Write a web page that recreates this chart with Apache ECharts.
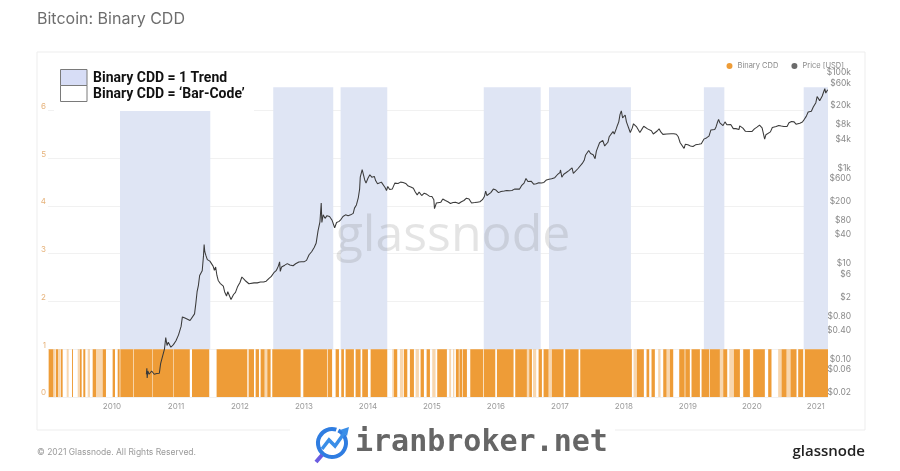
<!DOCTYPE html>
<html><head><meta charset="utf-8">
<script src="https://cdn.jsdelivr.net/npm/echarts@6/dist/echarts.min.js"></script>
<style>html,body{margin:0;padding:0;background:#fff}#c{width:900px;height:471px}</style>
</head><body><div id="c"></div>
<script>
// ---- data ----
const yearTicks = [2010,2011,2012,2013,2014,2015,2016,2017,2018,2019,2020,2021];
const cddTicks = [0,1,2,3,4,5,6];
const priceTickValues = [0.02,0.06,0.1,0.4,0.8,2,6,10,40,80,200,600,1000,4000,8000,20000,60000,100000];
const priceTickLabels = ['$0.02','$0.06','$0.10','$0.40','$0.80','$2','$6','$10','$40','$80','$200','$600','$1k','$4k','$8k','$20k','$60k','$100k'];
// annotated trend periods (decimal years)
const trendBands = [[2010.125,2011.536],[2012.52,2013.458],[2013.573,2014.302],[2015.81,2016.70],[2016.83,2018.11],[2019.25,2019.57],[2020.81,2021.19]];
// Binary CDD = 1 periods (decimal years)
const cddOn = [[2009.010,2009.083],[2009.125,2009.156],[2009.203,2009.229],[2009.375,2009.390],[2009.500,2009.526],[2009.552,2009.583],[2009.698,2009.750],[2009.854,2009.906],[2010.010,2010.047],[2010.089,2010.120],[2010.130,2010.330],[2010.338,2010.633],[2010.640,2010.955],[2010.962,2011.216],[2011.250,2011.520],[2011.635,2012.115],[2012.135,2012.219],[2012.245,2012.297],[2012.323,2012.385],[2012.427,2012.479],[2012.505,2012.948],[2012.990,2013.360],[2013.370,2013.440],[2013.495,2013.547],[2013.583,2013.625],[2013.651,2013.781],[2013.807,2013.885],[2013.911,2014.000],[2014.042,2014.302],[2014.406,2014.458],[2014.562,2014.615],[2014.656,2014.719],[2014.823,2014.875],[2014.917,2014.969],[2015.083,2015.234],[2015.375,2015.420],[2015.430,2015.470],[2015.480,2015.547],[2015.599,2015.800],[2015.810,2015.990],[2016.016,2016.276],[2016.302,2016.484],[2016.521,2016.563],[2016.667,2016.719],[2016.745,2016.823],[2016.875,2017.057],[2017.083,2017.292],[2017.318,2018.125],[2018.203,2018.3125],[2018.354,2018.396],[2018.432,2018.484],[2018.615,2018.667],[2018.719,2018.771],[2018.865,2018.950],[2018.960,2019.031],[2019.057,2019.188],[2019.214,2019.330],[2019.340,2019.500],[2019.552,2019.615],[2019.719,2019.813],[2019.865,2019.969],[2020.021,2020.203],[2020.255,2020.307],[2020.464,2020.542],[2020.604,2020.698],[2020.724,2020.802],[2020.828,2021.193]];
// short / partially visible CDD = 1 spells
const cddFaint = [[2009.083,2009.120],[2009.156,2009.200],[2009.292,2009.323],[2009.464,2009.500],[2009.620,2009.656],[2009.750,2009.854],[2012.385,2012.427],[2014.380,2014.406],[2014.500,2014.552],[2014.745,2014.797],[2015.005,2015.057],[2015.270,2015.300],[2015.330,2015.350],[2016.484,2016.521],[2016.580,2016.630],[2016.823,2016.875],[2018.151,2018.203],[2018.536,2018.573],[2018.667,2018.719],[2019.500,2019.552],[2019.646,2019.719],[2020.411,2020.464],[2020.542,2020.604]];
// BTC price [decimal year, USD]
const price = [[2010.537,0.06],[2010.545,0.08],[2010.55,0.05],[2010.56,0.07],[2010.58,0.06],[2010.62,0.07],[2010.66,0.06],[2010.70,0.062],[2010.74,0.063],[2010.76,0.1],[2010.79,0.105],[2010.82,0.2],[2010.84,0.35],[2010.86,0.24],[2010.88,0.28],[2010.92,0.22],[2010.96,0.25],[2011.0,0.3],[2011.04,0.4],[2011.08,0.6],[2011.10,0.95],[2011.14,0.9],[2011.18,0.85],[2011.22,0.8],[2011.25,0.78],[2011.29,1.1],[2011.31,1.8],[2011.33,3.2],[2011.35,4.3],[2011.37,7.0],[2011.39,6.8],[2011.41,8.8],[2011.43,18],[2011.44,31],[2011.45,22],[2011.47,18],[2011.49,15],[2011.51,14],[2011.53,14],[2011.55,13.5],[2011.58,11],[2011.60,9],[2011.62,10.5],[2011.64,7],[2011.66,5.5],[2011.69,4.8],[2011.72,5],[2011.74,4.2],[2011.76,3.2],[2011.79,2.6],[2011.81,3.2],[2011.83,3.0],[2011.86,2.2],[2011.88,2.0],[2011.90,2.8],[2011.93,3.1],[2011.96,4.0],[2012.0,5.0],[2012.03,6.5],[2012.06,6.1],[2012.08,5.5],[2012.11,5.4],[2012.14,4.7],[2012.17,4.9],[2012.22,4.9],[2012.27,4.9],[2012.32,5.1],[2012.37,5.1],[2012.41,5.3],[2012.45,6.0],[2012.49,6.7],[2012.53,8.0],[2012.57,9.0],[2012.60,11],[2012.62,13.5],[2012.63,8.5],[2012.65,10.5],[2012.70,11.5],[2012.74,12.4],[2012.78,11.6],[2012.83,11.2],[2012.87,12.3],[2012.92,13.4],[2012.96,13.5],[2013.0,13.5],[2013.04,14.5],[2013.08,19],[2013.12,22],[2013.16,27],[2013.19,33],[2013.22,60],[2013.25,93],[2013.27,230],[2013.28,90],[2013.30,130],[2013.33,110],[2013.36,125],[2013.40,120],[2013.44,100],[2013.48,70],[2013.51,90],[2013.55,95],[2013.58,105],[2013.61,120],[2013.65,130],[2013.69,125],[2013.73,130],[2013.77,140],[2013.79,180],[2013.82,210],[2013.85,300],[2013.87,450],[2013.88,800],[2013.91,1150],[2013.93,1050],[2013.95,700],[2013.97,600],[2014.0,760],[2014.03,900],[2014.06,800],[2014.10,830],[2014.12,680],[2014.15,580],[2014.18,560],[2014.21,630],[2014.24,580],[2014.27,480],[2014.29,420],[2014.31,510],[2014.34,440],[2014.38,450],[2014.42,600],[2014.44,650],[2014.47,590],[2014.51,630],[2014.55,620],[2014.59,590],[2014.63,520],[2014.67,500],[2014.71,470],[2014.74,390],[2014.77,340],[2014.80,390],[2014.84,330],[2014.88,370],[2014.92,350],[2014.96,320],[2015.0,315],[2015.03,270],[2015.04,175],[2015.07,230],[2015.10,225],[2015.14,240],[2015.17,280],[2015.21,260],[2015.25,245],[2015.29,225],[2015.33,235],[2015.37,240],[2015.42,225],[2015.46,245],[2015.50,260],[2015.54,290],[2015.58,280],[2015.62,230],[2015.67,235],[2015.71,240],[2015.75,245],[2015.79,270],[2015.82,315],[2015.84,410],[2015.86,330],[2015.88,320],[2015.92,380],[2015.96,450],[2016.0,430],[2016.04,380],[2016.06,380],[2016.08,400],[2016.13,410],[2016.17,420],[2016.21,415],[2016.25,420],[2016.29,450],[2016.33,450],[2016.37,450],[2016.40,530],[2016.44,600],[2016.47,750],[2016.50,650],[2016.52,680],[2016.55,660],[2016.59,570],[2016.63,580],[2016.67,610],[2016.71,605],[2016.75,620],[2016.79,700],[2016.83,720],[2016.87,740],[2016.92,780],[2016.96,900],[2017.0,1000],[2017.01,1130],[2017.03,800],[2017.06,920],[2017.10,1000],[2017.14,1100],[2017.17,1190],[2017.19,1250],[2017.21,960],[2017.24,1050],[2017.28,1200],[2017.31,1300],[2017.35,1550],[2017.38,1800],[2017.40,2300],[2017.42,2200],[2017.45,2900],[2017.48,2500],[2017.50,2450],[2017.52,2350],[2017.55,1950],[2017.57,2800],[2017.60,2800],[2017.62,4200],[2017.65,4300],[2017.67,4700],[2017.70,3600],[2017.72,3800],[2017.75,4300],[2017.77,5600],[2017.80,5900],[2017.83,7200],[2017.85,6400],[2017.88,8200],[2017.90,9800],[2017.92,11500],[2017.94,16500],[2017.96,19500],[2017.98,14000],[2018.0,13800],[2018.02,16000],[2018.04,11500],[2018.07,11000],[2018.10,6900],[2018.13,8500],[2018.15,10500],[2018.17,11000],[2018.20,9000],[2018.22,8200],[2018.25,6900],[2018.28,8000],[2018.31,9300],[2018.34,9700],[2018.37,8200],[2018.40,7600],[2018.43,7500],[2018.46,6400],[2018.49,6300],[2018.52,7400],[2018.55,8200],[2018.58,7000],[2018.61,6300],[2018.64,6900],[2018.67,6400],[2018.70,6600],[2018.74,6500],[2018.78,6500],[2018.82,6350],[2018.85,5600],[2018.88,4200],[2018.90,4000],[2018.94,3200],[2018.96,3900],[2019.0,3800],[2019.04,3600],[2019.08,3500],[2019.12,3800],[2019.17,3900],[2019.21,4000],[2019.25,5000],[2019.29,5300],[2019.33,5800],[2019.36,7800],[2019.38,8500],[2019.42,8000],[2019.44,9000],[2019.46,11000],[2019.48,13000],[2019.50,11000],[2019.52,12000],[2019.55,9600],[2019.58,11500],[2019.61,10000],[2019.64,10400],[2019.67,10100],[2019.71,8300],[2019.75,8300],[2019.80,8000],[2019.81,9500],[2019.83,9200],[2019.86,8500],[2019.90,7300],[2019.93,7400],[2019.96,7200],[2020.0,7200],[2020.04,8200],[2020.08,8900],[2020.12,9800],[2020.14,10300],[2020.16,8600],[2020.18,8800],[2020.20,5000],[2020.22,6200],[2020.25,6600],[2020.29,7100],[2020.32,8800],[2020.35,9400],[2020.38,9200],[2020.42,9700],[2020.46,9400],[2020.50,9200],[2020.55,9200],[2020.58,11000],[2020.62,11700],[2020.66,11500],[2020.69,10300],[2020.72,10700],[2020.75,10800],[2020.79,11400],[2020.82,13000],[2020.85,15000],[2020.88,18500],[2020.90,18200],[2020.93,19200],[2020.96,23500],[2021.0,29000],[2021.02,39000],[2021.04,36000],[2021.06,32000],[2021.08,33000],[2021.10,40000],[2021.12,48000],[2021.14,57000],[2021.155,46000],[2021.17,50000],[2021.185,54000]];

// ---- chart ----
const X_MIN = 2009, X_MAX = 2021.19;
const P_MIN = 0.02, P_MAX = 100000;
const DEC = Math.log10(P_MAX / P_MIN);
const ORANGE = '#ee9c37';
const chart = echarts.init(document.getElementById('c'), null, {renderer: 'canvas'});

const cddData = cddOn.map(d => [d[0], d[1], 1]).concat(cddFaint.map(d => [d[0], d[1], 0.4]));

chart.setOption({
  animation: false,
  backgroundColor: '#fff',
  textStyle: {fontFamily: 'Inter, "Noto Sans", sans-serif'},
  grid: {left: 48, right: 72, top: 77, bottom: 74, containLabel: false},
  legend: {
    right: 51, top: 57, icon: 'circle', itemWidth: 6, itemHeight: 6, itemGap: 13,
    textStyle: {fontSize: 7.5, color: '#8a8a8a'},
    data: [{name: 'Binary CDD', itemStyle: {color: ORANGE}}, {name: 'Price [USD]', itemStyle: {color: '#6b6b6b'}}]
  },
  xAxis: {
    type: 'value', min: X_MIN, max: X_MAX, interval: 1,
    axisLine: {show: false}, axisTick: {show: false}, splitLine: {show: false},
    axisLabel: {fontSize: 8, color: '#9a9a9a', margin: 6,
      customValues: yearTicks, formatter: v => String(v)}
  },
  yAxis: [
    {type: 'value', position: 'left', min: 0, max: DEC,
      axisLine: {show: false},
      axisTick: {show: false, customValues: cddTicks},
      splitLine: {show: true, lineStyle: {color: '#f1f1f1', width: 1}},
      axisLabel: {customValues: cddTicks, fontSize: 8, color: '#e6b27a', margin: 2, verticalAlign: 'bottom', formatter: v => String(Math.round(v))}
    },
    {type: 'log', position: 'right', min: P_MIN, max: P_MAX, logBase: 10, show: false},
    {type: 'value', position: 'right', min: 0, max: DEC,
      axisLine: {show: false}, axisTick: {show: false}, splitLine: {show: false},
      axisLabel: {
        customValues: priceTickValues.map(p => Math.log10(p / P_MIN)),
        fontSize: 8.5, color: '#8a8a8a', margin: 23, align: 'right', verticalAlign: 'bottom',
        formatter: v => {
          let best = 0, bd = 1e9;
          priceTickValues.forEach((p, i) => { const d = Math.abs(Math.log10(p / P_MIN) - v); if (d < bd) { bd = d; best = i; } });
          return priceTickLabels[best];
        }
      }
    }
  ],
  series: [
    {
      name: 'bands', type: 'line', data: [], yAxisIndex: 0, z: 1, silent: true,
      markArea: {silent: true, itemStyle: {color: '#dfe5f4'},
        data: trendBands.map(b => [{xAxis: b[0], yAxis: 1}, {xAxis: b[1], yAxis: 6.485}])}
    },
    {
      name: 'Binary CDD', type: 'custom', yAxisIndex: 0, z: 3, clip: true,
      itemStyle: {color: ORANGE},
      encode: {x: [0, 1], y: 2},
      data: cddData,
      renderItem: (params, api) => {
        const a = api.coord([api.value(0), 1]);
        const b = api.coord([api.value(1), 0]);
        return {type: 'rect', shape: {x: a[0], y: a[1], width: Math.max(b[0] - a[0], 0.7), height: b[1] - a[1]},
          style: {fill: ORANGE, opacity: api.value(2)}};
      }
    },
    {
      name: 'Price [USD]', type: 'line', yAxisIndex: 1, z: 5, data: price,
      showSymbol: false, symbol: 'none', itemStyle: {color: '#6b6b6b'},
      lineStyle: {color: '#3a3a3a', width: 1.05}
    }
  ],
  graphic: [
    {type: 'rect', z: -10, shape: {x: 37, y: 52, width: 828, height: 378}, style: {fill: 'none', stroke: '#ededed', lineWidth: 1}},
    {type: 'text', left: 37, top: 11, style: {text: 'Bitcoin: Binary CDD', fontSize: 16, fill: '#6d6d6d', fontFamily: 'Inter, "Noto Sans", sans-serif'}},
    {type: 'text', z: 4, x: 453, y: 237, style: {text: 'glassnode', fontSize: 50, fill: 'rgba(120,120,120,0.2)', align: 'center', verticalAlign: 'middle', fontFamily: '"Open Sans", "Noto Sans", sans-serif'}},
    // annotation legend
    {type: 'rect', z: 20, shape: {x: 54, y: 64, width: 200, height: 47}, style: {fill: '#fff'}},
    {type: 'rect', z: 21, shape: {x: 60.5, y: 69.5, width: 26.5, height: 16}, style: {fill: '#d7ddf6', stroke: '#7a7a7a', lineWidth: 1}},
    {type: 'rect', z: 21, shape: {x: 60.5, y: 85.5, width: 26.5, height: 16}, style: {fill: '#fff', stroke: '#7a7a7a', lineWidth: 1}},
    {type: 'text', z: 21, x: 93, y: 78, style: {text: 'Binary CDD = 1 Trend', fontSize: 14, fontWeight: 'bold', fill: '#111', verticalAlign: 'middle', fontFamily: 'Roboto, "Liberation Sans", sans-serif'}},
    {type: 'text', z: 21, x: 93, y: 94.5, style: {text: 'Binary CDD = \u2018Bar-Code\u2019', fontSize: 14, fontWeight: 'bold', fill: '#111', verticalAlign: 'middle', fontFamily: 'Roboto, "Liberation Sans", sans-serif'}},
    // footer
    {type: 'text', x: 37, y: 452, style: {text: '\u00a9 2021 Glassnode. All Rights Reserved.', fontSize: 8.5, fill: '#9a9a9a', verticalAlign: 'middle', fontFamily: 'Inter, "Noto Sans", sans-serif'}},
    {type: 'text', x: 865, y: 452, style: {text: 'glassnode', fontSize: 15, fontWeight: 600, fill: '#222', align: 'right', verticalAlign: 'middle', fontFamily: '"Open Sans", "Noto Sans", sans-serif'}},
    {type: 'rect', z: 30, shape: {x: 290, y: 419, width: 325, height: 52}, style: {fill: '#fff'}},
    {type: 'arc', z: 31, shape: {cx: 332, cy: 443, r: 14, startAngle: -Math.PI * 0.35, endAngle: Math.PI * 1.6}, style: {stroke: '#2f7de1', lineWidth: 4, fill: 'none'}},
    {type: 'polyline', z: 31, shape: {points: [[322, 449], [329, 440], [335, 446], [345, 432]]}, style: {stroke: '#3a8ee8', lineWidth: 3.5, fill: 'none'}},
    {type: 'polygon', z: 31, shape: {points: [[340, 430], [349, 427], [347, 436]]}, style: {fill: '#3a8ee8'}},
    {type: 'polyline', z: 31, shape: {points: [[322, 455], [316, 462]]}, style: {stroke: '#6a5ce0', lineWidth: 4, fill: 'none'}},
    {type: 'text', z: 31, x: 355, y: 443, style: {text: 'iranbroker.net', fontSize: 30, fontWeight: 'bold', fill: '#666', verticalAlign: 'middle', fontFamily: '"DejaVu Sans Mono", monospace'}}
  ]
});
</script></body></html>
